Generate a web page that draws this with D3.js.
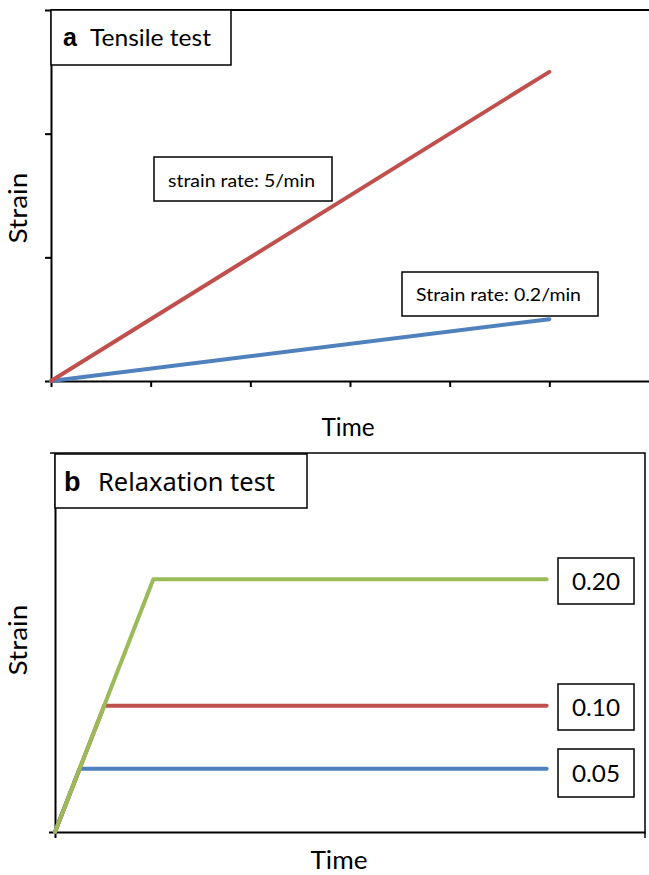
<!DOCTYPE html>
<html><head><meta charset="utf-8">
<script src="https://cdn.jsdelivr.net/npm/d3@7"></script>
<style>html,body{margin:0;padding:0;background:#fff}svg{display:block}</style>
</head><body>
<svg id="c" width="649" height="875"></svg>
<script>
// ---------- data ----------
// Panel a: tensile test (time vs strain)
const tensileSeries = ["strain rate: 5/min", "Strain rate: 0.2/min"];
const tensileTime = [0, 5];
const tensileFast = [0, 2.5];
const tensileSlow = [0, 0.5];
const tensileXTicks = [0, 1, 2, 3, 4, 5];
const tensileYTicks = [0, 1, 2, 3];

// Panel b: relaxation test (ramp then hold)
const relaxLevels = ["0.05", "0.10", "0.20"];
const relaxTime = [[0, 0.25, 5], [0, 0.5, 5], [0, 1.0, 5]];
const relaxStrain = [[0, 0.05, 0.05], [0, 0.10, 0.10], [0, 0.20, 0.20]];

const RED = "#C0504D", BLUE = "#4F81BD", GREEN = "#9BBB59";
const FONT = "Lato, 'Open Sans', sans-serif";

const svg = d3.select("#c");

// ---------- Panel a ----------
const xA = d3.scaleLinear().domain([0, 6]).range([51, 649]);
const yA = d3.scaleLinear().domain([0, 3]).range([381, 10]);
const gA = svg.append("g");

gA.append("line").attr("x1", xA(0)).attr("x2", xA(6)).attr("y1", yA(3)).attr("y2", yA(3))
  .attr("stroke", "#000").attr("stroke-width", 2);

const axA = gA.append("g").attr("transform", `translate(0,${yA(0)})`)
  .call(d3.axisBottom(xA).tickValues(tensileXTicks).tickSize(6).tickSizeOuter(0).tickFormat(""));
const ayA = gA.append("g").attr("transform", `translate(${xA(0)},0)`)
  .call(d3.axisLeft(yA).tickValues(tensileYTicks).tickSize(6).tickSizeOuter(0).tickFormat(""));
[axA, ayA].forEach(a => { a.selectAll("path,line").attr("stroke", "#000").attr("stroke-width", 2); });

const lineA = d3.line().x(d => xA(d[0])).y(d => yA(d[1]));
[[tensileSlow, BLUE], [tensileFast, RED]].forEach(([vals, col]) => {
  gA.append("path").datum(tensileTime.map((t, i) => [t, vals[i]]))
    .attr("d", lineA).attr("fill", "none").attr("stroke", col)
    .attr("stroke-width", 4).attr("stroke-linecap", "round");
});

function box(g, x, y, w, h) {
  g.append("rect").attr("x", x).attr("y", y).attr("width", w).attr("height", h)
    .attr("fill", "#fff").attr("stroke", "#000").attr("stroke-width", 1.5);
}
function txt(g, s, x, y, size, opts = {}) {
  const t = g.append("text").attr("x", x).attr("y", y).text(s)
    .attr("font-family", opts.family || FONT).attr("font-size", size)
    .attr("font-weight", opts.weight || "normal").attr("fill", "#000");
  if (opts.anchor) t.attr("text-anchor", opts.anchor);
  if (opts.len) t.attr("textLength", opts.len).attr("lengthAdjust", "spacingAndGlyphs");
  if (opts.rotate) t.attr("transform", `rotate(-90,${x},${y})`);
  return t;
}

// title box a
box(gA, 51, 10, 180, 55);
txt(gA, "a", 63, 46, 25, {weight: "bold", family: "'Liberation Sans', Arial, sans-serif"});
txt(gA, "Tensile test", 90, 46, 23, {len: 121});

// series labels
box(gA, 154, 157, 178, 44);
txt(gA, tensileSeries[0], 168, 187, 18, {len: 147});
box(gA, 402, 272, 196, 44);
txt(gA, tensileSeries[1], 416, 301, 18, {len: 165});

txt(gA, "Time", 348, 436, 25, {anchor: "middle", len: 53});
txt(gA, "Strain", 27, 208, 25, {anchor: "middle", rotate: true, len: 71});

// ---------- Panel b ----------
const xB = d3.scaleLinear().domain([0, 6]).range([55, 645]);
const yB = d3.scaleLinear().domain([0, 0.3]).range([832, 453]);
const gB = svg.append("g");

// frame (top + right)
gB.append("path").attr("d", `M${xB(0) - 5},${yB(0.3)}H${xB(6)}V${yB(0) + 6}`)
  .attr("fill", "none").attr("stroke", "#000").attr("stroke-width", 1.5);

const axB = gB.append("g").attr("transform", `translate(0,${yB(0)})`)
  .call(d3.axisBottom(xB).tickValues([0]).tickSize(6).tickSizeOuter(0).tickFormat(""));
const ayB = gB.append("g").attr("transform", `translate(${xB(0)},0)`)
  .call(d3.axisLeft(yB).tickValues([0]).tickSize(6).tickSizeOuter(0).tickFormat(""));
[axB, ayB].forEach(a => { a.selectAll("path,line").attr("stroke", "#000").attr("stroke-width", 2); });

const lineB = d3.line().x(d => xB(d[0])).y(d => yB(d[1]));
const relaxColors = [BLUE, RED, GREEN];
relaxLevels.forEach((lab, i) => {
  gB.append("path").datum(relaxTime[i].map((t, j) => [t, relaxStrain[i][j]]))
    .attr("d", lineB).attr("fill", "none").attr("stroke", relaxColors[i])
    .attr("stroke-width", 4).attr("stroke-linecap", "round").attr("stroke-linejoin", "round");
});

// level labels
const labelBoxes = [[558, 749, 76, 48], [558, 684, 76, 46], [558, 558, 76, 46]];
relaxLevels.forEach((lab, i) => {
  const [x, y, w, h] = labelBoxes[i];
  box(gB, x, y, w, h);
  txt(gB, lab, x + w / 2, y + h / 2 + 8.5, 24, {anchor: "middle", len: 48});
});

// title box b
box(gB, 55, 454, 252, 54);
txt(gB, "b", 64, 491, 27, {weight: "bold", family: "'Liberation Sans', Arial, sans-serif"});
txt(gB, "Relaxation  test", 98, 491, 25, {len: 177, family: "'Noto Sans', sans-serif"});

txt(gB, "Time", 339, 869, 25, {anchor: "middle", len: 57});
txt(gB, "Strain", 27, 640, 25, {anchor: "middle", rotate: true, len: 71});
</script>
</body></html>
